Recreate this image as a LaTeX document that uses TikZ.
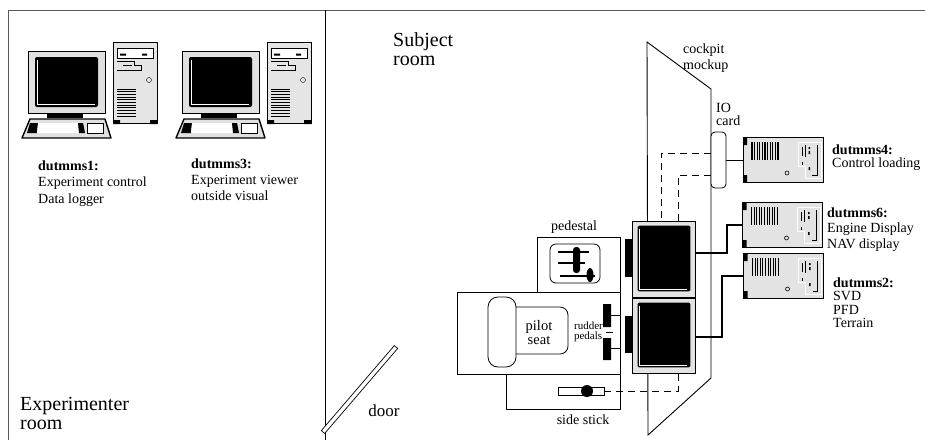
\documentclass[tikz,border=0pt]{standalone}
\usepackage{fontspec}
\setmainfont{Liberation Serif}
\begin{document}
\begin{tikzpicture}[x=1pt,y=-1pt,
  txt/.style={font=\fontsize{14}{15}\selectfont, inner sep=0pt, align=left, anchor=base west},
  roomlbl/.style={font=\fontsize{20}{18.5}\selectfont, inner sep=0pt, align=left, anchor=base west},
  box/.style={draw, fill=black!11, line width=0.8pt, inner sep=0pt},
  display/.style={box, minimum width=63pt, minimum height=76pt},
  server/.style={box, minimum width=80pt, minimum height=45pt},
  link/.style={line width=2pt},
  dio/.style={line width=0.9pt, dash pattern=on 7pt off 5pt},
  pics/desktop/.style={code={
    % monitor
    \draw[fill=black!12, line width=0.8pt] (0,0) rectangle (77,62);
    \fill[rounded corners=2pt] (7,6) rectangle (70,56);
    \draw[white, line width=0.7pt] (9,9) |- (67,53);
    \fill (19,62) rectangle (55,67);
    % keyboard
    \draw[fill=black!12, line width=1.4pt, line join=round] (2,68) -- (77,68) -- (83,87) -- (-6,87) -- cycle;
    \fill (2,72) -- (10,72) -- (9,82) -- (-1,82) -- cycle;
    \fill[white] (10,72) -- (50,72) -- (51,82) -- (9,82) -- cycle;
    \fill (50,72) -- (55,72) -- (57,82) -- (51,82) -- cycle;
    \draw[fill=white, line width=0.8pt] (59,72) rectangle (75,82);
    % tower
    \draw[fill=black!10, line width=0.8pt] (85,-9) rectangle (129,72);
    \fill (85,69) rectangle (92,73) (122,69) rectangle (129,73);
    \draw[fill=white, line width=0.6pt] (89,-3) rectangle (125,7);
    \fill (92,2.5) rectangle (98,4.5) (114,2.5) rectangle (119,4.5);
    \draw[line width=0.6pt] (89,10) -- (106,10) -- (106,14) -- (113,14) -- (113,19) -- (89,19);
    \draw[line width=0.6pt] (95,14) -- (104,14);
    \draw (121,29) circle (2.5);
    \foreach \k in {0,...,10}
      \draw[line width=1pt] (89,38+2.7*\k) -- (108,38+2.7*\k);
  }},
  pics/rack/.style={code={
    \fill (-40,-22.5) rectangle (-36,-15) (-40,15) rectangle (-36,22.5);
    \foreach \k in {0,...,10}
      \draw[line width=1.1pt] (-31+2.6*\k,-18) -- (-31+2.6*\k,0);
    \draw[line width=0.6pt] (4,13) circle (2);
    \draw[white, line width=1pt] (15,-18) -- (38,-18) -- (38,18) -- (22,18) -- (22,6) -- (15,6) -- cycle;
    \draw[line width=1pt] (34,-15) -- (34,15) -- (29,15);
    \draw[line width=0.6pt] (19,-13) -- (19,-4) (22,-15) -- (22,-3) (19,2) -- (19,5);
    \fill (25.5,-13) rectangle (27,-11) (25.5,-9) rectangle (27,-6) (25.5,7) rectangle (27,10);
  }}
]
\useasboundingbox (0,0) rectangle (925,440);

% walls
\draw[black!65, line width=0.8pt] (8,440) -- (8,10) -- (925,10);
\draw[line width=1pt] (325,10) -- (325,440);
\draw[fill=white, line width=0.7pt] (324.7,433.4) -- (397.7,348.4) -- (394.3,345.6) -- (321.3,430.6) -- cycle;
\node[font=\fontsize{17}{17}\selectfont, inner sep=0pt] (door) at (384,411) {door};
\node[roomlbl] (exproom) at (20,429) {Experimenter\\room};
\node[roomlbl] (subroom) at (393,65) {Subject\\room};

% experimenter desks
\pic (pc1) at (28,51) {desktop};
\pic (pc3) at (182,51) {desktop};
\node[txt, font=\fontsize{14}{16.5}\selectfont] (lbl1) at (38,203) {\textbf{dutmms1:}\\Experiment control\\Data logger};
\node[txt, font=\fontsize{14}{16}\selectfont] (lbl3) at (191,200) {\textbf{dutmms3:}\\Experiment viewer\\outside visual};

% cockpit
\draw[line width=0.9pt] (647,42) -- (711,89) -- (711,378) -- (648,435) -- cycle;
\node[txt, font=\fontsize{14}{16}\selectfont] (mockup) at (683,69) {cockpit\\mockup};
\node[txt, font=\fontsize{14}{13}\selectfont] (iolbl) at (716,125) {IO\\card};
\node[draw, fill=white, rounded corners=4pt, line width=0.8pt, minimum width=15pt, minimum height=56pt, inner sep=0pt] (io) at (718.5,160) {};

% pedestal, seat and stick
\draw[line width=0.8pt] (537,237) rectangle (620,292);
\node[txt, anchor=center] (pedlbl) at (574,227) {pedestal};
\draw[line width=0.8pt, rounded corners=6pt] (550,244) rectangle (600,283);
\draw[line width=1.6pt] (558,252) -- (589,252) (558,263) -- (585,263) (560,276) -- (595,276);
\fill[rounded corners=3pt] (573,247) rectangle (580,273);
\fill (590,275) ellipse (3.5 and 7);
\draw[line width=0.8pt] (457,292) rectangle (620,374);
\draw[line width=0.8pt] (506,374) rectangle (620,409);
\draw[line width=0.8pt, rounded corners=10pt] (488,297) rectangle (516,367);
\draw[line width=0.8pt, rounded corners=8pt] (516,307) -- (568,307) -- (568,354) -- (516,354);
\node[txt, anchor=center, font=\fontsize{14.5}{14}\selectfont, align=center] (seat) at (539,333) {pilot\\seat};
\fill (603,304) rectangle (611,327) (603,338) rectangle (611,360);
\draw[line width=0.7pt] (611,315) -- (620,315) (611,348) -- (620,348) (606,332) -- (613,332);
\node[txt, anchor=east, font=\fontsize{11}{10.5}\selectfont] (pedals) at (603,332) {rudder\\pedals};
\node[draw, fill=white, line width=0.7pt, minimum width=46pt, minimum height=8pt, inner sep=0pt] (stick) at (581,391) {};
\fill (587,391) circle (6);
\node[txt, anchor=center] (sticklbl) at (583,420) {side stick};

% cockpit displays
\node[display] (disp1) at (663.5,259) {};
\node[display, minimum height=75pt] (disp2) at (663.5,335.5) {};
\foreach \d in {disp1,disp2}{
  \fill[rounded corners=1.5pt] ([shift={(6,5)}]\d.north west) rectangle ([shift={(-5,-6)}]\d.south east);
  \draw[white, line width=0.6pt] ([shift={(8,8)}]\d.north west) |- ([shift={(-8,-8)}]\d.south east);
  \fill ([shift={(-7,18)}]\d.north west) rectangle ([shift={(0,-20)}]\d.south west);
}

% simulation computers
\node[server] (srv4) at (783,160) {};
\node[server] (srv6) at (782.5,225) {};
\node[server] (srv2) at (783.5,276) {};
\foreach \s in {srv4,srv6,srv2}
  \pic at (\s.center) {rack};
\node[txt, font=\fontsize{14}{13}\selectfont] (lbl4) at (832,167) {\textbf{dutmms4:}\\Control loading};
\node[txt, font=\fontsize{14}{15.5}\selectfont] (lbl6) at (827,248) {\textbf{dutmms6:}\\Engine Display\\NAV display};
\node[txt, font=\fontsize{14}{13.5}\selectfont] (lbl2) at (833,327.5) {\textbf{dutmms2:}\\SVD\\PFD\\Terrain};

% connections
\draw[line width=0.8pt] (io.east) -- (srv4.west);
\draw[link] ([yshift=6pt]disp1.east) -- ++(32,0) |- (srv6.west);
\draw[link] ([yshift=-1.5pt]disp2.east) -- ++(27,0) |- (srv2.west);
\draw[dio] ([yshift=7pt]io.west) -| ([xshift=-2.5pt]disp1.north);
\draw[dio] ([yshift=-15pt]io.west) -| ([xshift=14.5pt]disp1.north);
\draw[dio] (stick.east) -| ([xshift=14.5pt]disp2.south);

\end{tikzpicture}
\end{document}
